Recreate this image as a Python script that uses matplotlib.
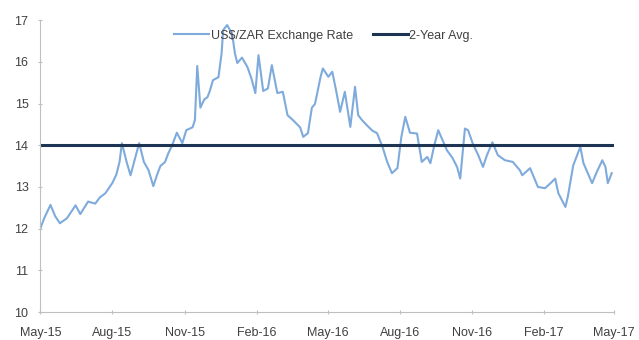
import matplotlib
matplotlib.use("Agg")
import matplotlib.pyplot as plt
import matplotlib.dates as mdates
import pandas as pd

# daily offsets from 1 May 2015 and the USD/ZAR close on those days
start_date = "2015-05-01"
days_from_start = [
    0, 5, 13, 19, 25, 34, 45, 51, 61, 70, 76, 83, 92, 97, 101, 104, 110, 115,
    121, 126, 132, 138, 144, 149, 153, 159, 163, 168, 174, 181, 186, 194, 197,
    200, 204, 209, 213, 216, 220, 227, 231, 233, 238, 242, 245, 248, 251, 257,
    264, 269, 274, 278, 284, 290, 295, 302, 309, 315, 322, 331, 335, 341, 346,
    350, 357, 360, 367, 372, 377, 382, 388, 395, 401, 405, 410, 416, 423, 429,
    436, 442, 448, 455, 460, 465, 471, 480, 486, 493, 497, 502, 507, 513, 518,
    525, 531, 535, 541, 545, 551, 558, 564, 569, 576, 583, 592, 602, 611, 614,
    624, 634, 643, 650, 656, 660, 669, 672, 679, 688, 692, 703, 709, 716, 720,
    723, 728,
]
usd_zar = [
    12.00, 12.25, 12.57, 12.30, 12.13, 12.25, 12.56, 12.35, 12.65, 12.60, 12.75,
    12.85, 13.10, 13.30, 13.60, 14.05, 13.60, 13.28, 13.70, 14.05, 13.60, 13.40,
    13.02, 13.30, 13.50, 13.60, 13.80, 14.00, 14.30, 14.05, 14.36, 14.43, 14.60,
    15.90, 14.90, 15.10, 15.15, 15.30, 15.56, 15.63, 16.20, 16.76, 16.88, 16.75,
    16.60, 16.20, 15.97, 16.10, 15.87, 15.60, 15.25, 16.16, 15.30, 15.36, 15.92,
    15.25, 15.28, 14.72, 14.60, 14.43, 14.20, 14.29, 14.90, 14.99, 15.63, 15.84,
    15.64, 15.76, 15.30, 14.80, 15.28, 14.44, 15.40, 14.72, 14.60, 14.48, 14.35,
    14.29, 13.96, 13.60, 13.33, 13.45, 14.20, 14.68, 14.30, 14.28, 13.60, 13.72,
    13.57, 14.00, 14.36, 14.10, 13.88, 13.70, 13.48, 13.20, 14.40, 14.36, 14.04,
    13.76, 13.48, 13.76, 14.07, 13.76, 13.64, 13.60, 13.40, 13.28, 13.45, 13.00,
    12.97, 13.09, 13.20, 12.85, 12.52, 12.76, 13.52, 13.96, 13.57, 13.09, 13.36,
    13.64, 13.48, 13.09, 13.33,
]
two_year_avg = 14.0

dates = pd.Timestamp(start_date) + pd.to_timedelta(days_from_start, unit="D")

plt.rcParams["font.family"] = ["Liberation Sans", "DejaVu Sans"]

fig = plt.figure(figsize=(6.39, 3.40), dpi=100)
ax = fig.add_axes([0.063, 0.082, 0.898, 0.859])

ax.plot(dates, usd_zar, color="#7eabdc", linewidth=1.5, label="US$/ZAR Exchange Rate")
ax.axhline(two_year_avg, color="#1d3553", linewidth=2.2, label="2-Year Avg.")

ax.set_xlim(pd.Timestamp("2015-05-01"), pd.Timestamp("2017-05-01"))
ax.set_ylim(10, 17)
ax.set_yticks(range(10, 18))
ax.xaxis.set_major_locator(mdates.MonthLocator(bymonth=[2, 5, 8, 11]))
ax.xaxis.set_major_formatter(mdates.DateFormatter("%b-%y"))

for side in ("top", "right"):
    ax.spines[side].set_visible(False)
for side in ("left", "bottom"):
    ax.spines[side].set_color("#bfbfbf")
ax.tick_params(axis="both", colors="#bfbfbf", labelcolor="#404040", labelsize=9,
               length=3, direction="inout")
ax.tick_params(axis="y", pad=7)
ax.tick_params(axis="x", pad=9)

ax.legend(loc="upper center", bbox_to_anchor=(0.494, 1.005), ncol=2, frameon=False,
          fontsize=9, handlelength=2.8, columnspacing=1.6, handletextpad=0.1,
          labelcolor="#404040")

fig.savefig("out.png", dpi=100)
